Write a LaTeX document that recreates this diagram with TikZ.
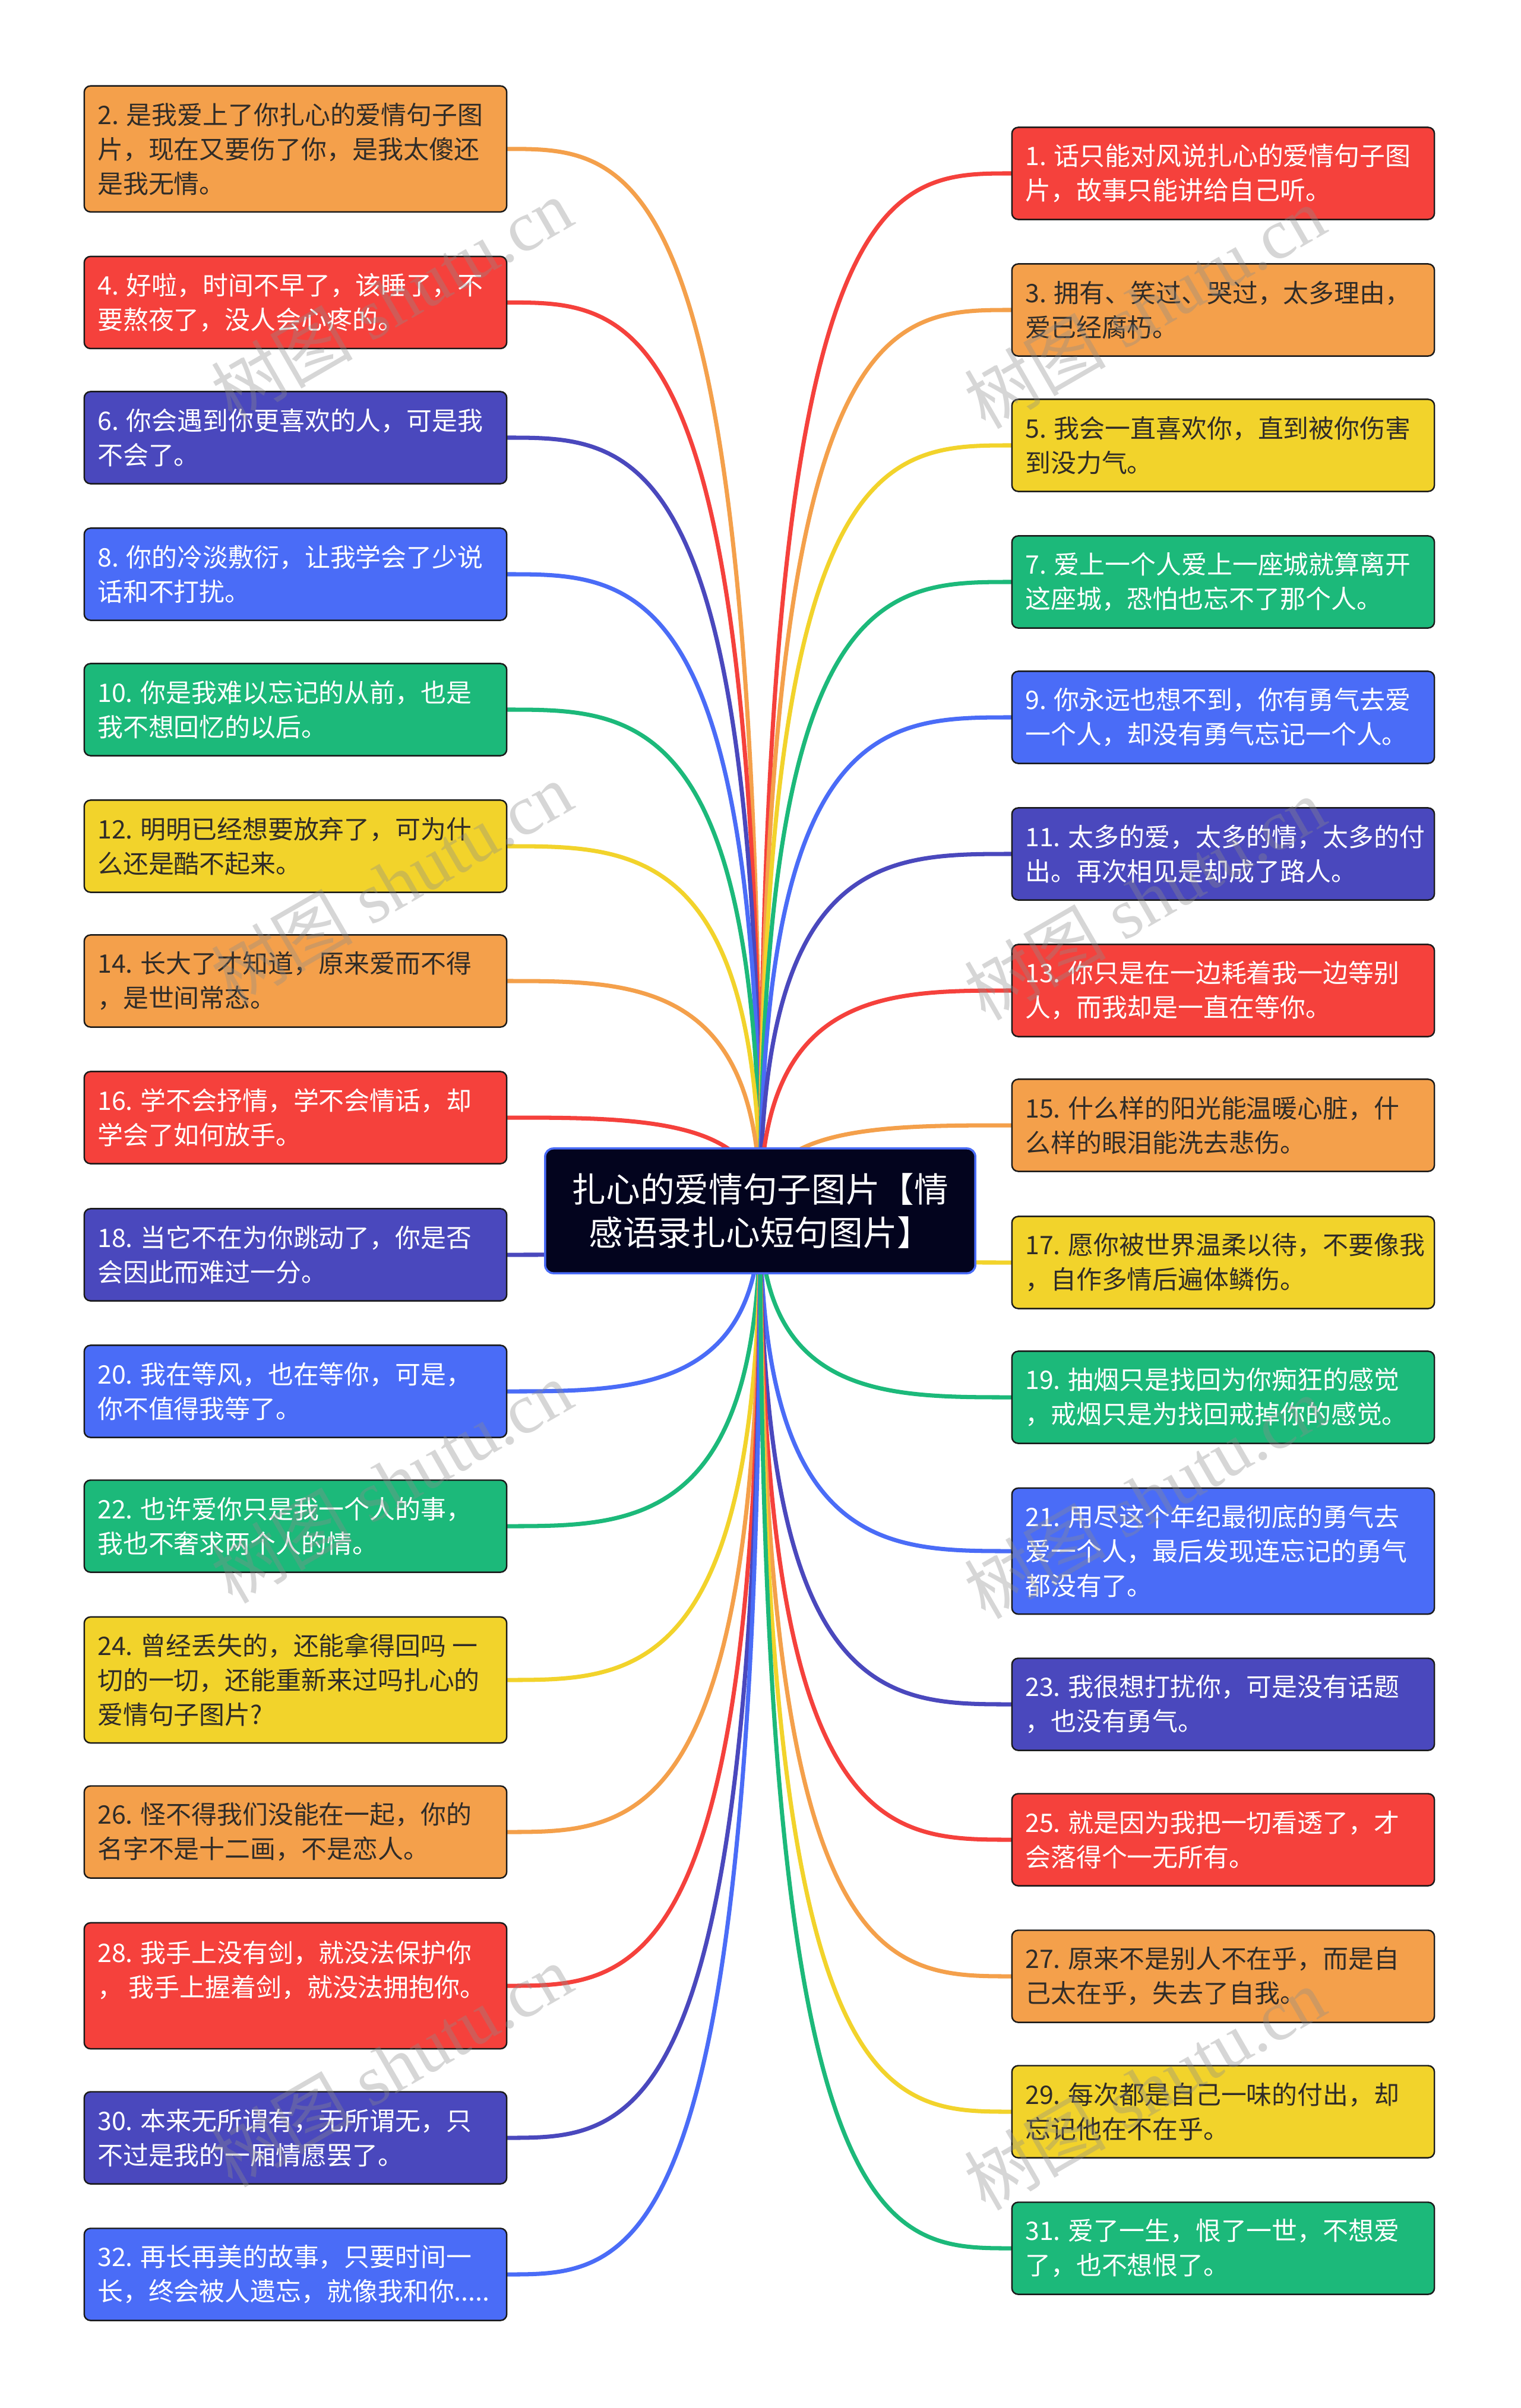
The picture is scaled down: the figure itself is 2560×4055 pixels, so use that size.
\documentclass[tikz,border=0pt]{standalone}
\usepackage{fontspec}
\newfontfamily\cjk{Noto Sans CJK SC}
\newfontfamily\wmfont{Liberation Serif}
\usetikzlibrary{calc}
\definecolor{cOr}{RGB}{244,160,75}
\definecolor{cRe}{RGB}{245,65,60}
\definecolor{cYe}{RGB}{242,211,43}
\definecolor{cIn}{RGB}{74,72,189}
\definecolor{cBl}{RGB}{74,108,247}
\definecolor{cGr}{RGB}{28,185,122}
\definecolor{cNavy}{RGB}{3,4,30}
\definecolor{cDark}{RGB}{48,44,40}
\definecolor{cBorder}{RGB}{26,26,26}
\pgfdeclarelayer{paper}
\pgfdeclarelayer{bg}
\pgfdeclarelayer{top}
\pgfsetlayers{paper,bg,main,top}
\tikzset{
  boxsty/.style={draw=cBorder, line width=0.7pt, rounded corners=3pt, minimum width=7.11cm, inner sep=0pt},
  htwo/.style={minimum height=1.55cm},
  hthree/.style={minimum height=2.12cm},
  txtsty/.style={align=left, inner sep=0pt, font=\cjk\fontsize{12.2}{16.5}\selectfont},
  conn/.style={line width=2pt, line cap=round},
  wm/.style={rotate=30, text=black!45, opacity=0.35, font=\wmfont\fontsize{34}{34}\selectfont}
}
% #1 id, #2 fill, #3 text colour, #4 y, #5 height style, #6 text
\newcommand\Lbox[6]{%
  \node[boxsty, #5, fill=#2] (b#1) at (497.5,#4) {};
  \node[txtsty, text=#3, anchor=west] (t#1) at ([xshift=0.23cm]b#1.west) {#6};
  \begin{pgfonlayer}{bg}
    \draw[conn, #2] (c.center) .. controls (c.center |- b#1.east) and ($(c.center |- b#1.east)!0.5!(b#1.east)$) .. (b#1.east);
  \end{pgfonlayer}
}
\newcommand\Rbox[6]{%
  \node[boxsty, #5, fill=#2] (b#1) at (2059.5,#4) {};
  \node[txtsty, text=#3, anchor=west] (t#1) at ([xshift=0.23cm]b#1.west) {#6};
  \begin{pgfonlayer}{bg}
    \draw[conn, #2] (c.center) .. controls (c.center |- b#1.west) and ($(c.center |- b#1.west)!0.5!(b#1.west)$) .. (b#1.west);
  \end{pgfonlayer}
}
\begin{document}
\begin{tikzpicture}[x=0.01cm, y=-0.01cm]
\useasboundingbox (0,0) rectangle (2560,4055);
\begin{pgfonlayer}{paper}
\fill[white] (0,0) rectangle (2560,4055);
\end{pgfonlayer}

\node[draw=cBl, line width=1pt, fill=cNavy, rounded corners=4pt, minimum width=7.24cm, minimum height=2.1cm, text=white, align=center, inner sep=0pt, font=\cjk\fontsize{16.4}{20.6}\selectfont] (c) at (1280,2039) {扎心的爱情句子图片【情\\感语录扎心短句图片】};

% left column
\Lbox{2}{cOr}{cDark}{250.8}{hthree}{2. 是我爱上了你扎心的爱情句子图\\片，现在又要伤了你，是我太傻还\\是我无情。}
\Lbox{4}{cRe}{white}{509.4}{htwo}{4. 好啦，时间不早了，该睡了，不\\要熬夜了，没人会心疼的。}
\Lbox{6}{cIn}{white}{737}{htwo}{6. 你会遇到你更喜欢的人，可是我\\不会了。}
\Lbox{8}{cBl}{white}{967}{htwo}{8. 你的冷淡敷衍，让我学会了少说\\话和不打扰。}
\Lbox{10}{cGr}{white}{1195}{htwo}{10. 你是我难以忘记的从前，也是\\我不想回忆的以后。}
\Lbox{12}{cYe}{cDark}{1425}{htwo}{12. 明明已经想要放弃了，可为什\\么还是酷不起来。}
\Lbox{14}{cOr}{cDark}{1652}{htwo}{14. 长大了才知道，原来爱而不得\\，是世间常态。}
\Lbox{16}{cRe}{white}{1882}{htwo}{16. 学不会抒情，学不会情话，却\\学会了如何放手。}
\Lbox{18}{cIn}{white}{2113}{htwo}{18. 当它不在为你跳动了，你是否\\会因此而难过一分。}
\Lbox{20}{cBl}{white}{2343}{htwo}{20. 我在等风，也在等你，可是，\\你不值得我等了。}
\Lbox{22}{cGr}{white}{2570}{htwo}{22. 也许爱你只是我一个人的事，\\我也不奢求两个人的情。}
\Lbox{24}{cYe}{cDark}{2829}{hthree}{24. 曾经丢失的，还能拿得回吗 一\\切的一切，还能重新来过吗扎心的\\爱情句子图片?}
\Lbox{26}{cOr}{cDark}{3085}{htwo}{26. 怪不得我们没能在一起，你的\\名字不是十二画，不是恋人。}
\Lbox{28}{cRe}{white}{3344}{hthree}{28. 我手上没有剑，就没法保护你\\，\ 我手上握着剑，就没法拥抱你。\\\mbox{}}
\Lbox{30}{cIn}{white}{3600}{htwo}{30. 本来无所谓有，无所谓无，只\\不过是我的一厢情愿罢了。}
\Lbox{32}{cBl}{white}{3830}{htwo}{32. 再长再美的故事，只要时间一\\长，终会被人遗忘，就像我和你.....}

% right column
\Rbox{1}{cRe}{white}{292}{htwo}{1. 话只能对风说扎心的爱情句子图\\片，故事只能讲给自己听。}
\Rbox{3}{cOr}{cDark}{522}{htwo}{3. 拥有、笑过、哭过，太多理由，\\爱已经腐朽。}
\Rbox{5}{cYe}{cDark}{750}{htwo}{5. 我会一直喜欢你，直到被你伤害\\到没力气。}
\Rbox{7}{cGr}{white}{980}{htwo}{7. 爱上一个人爱上一座城就算离开\\这座城，恐怕也忘不了那个人。}
\Rbox{9}{cBl}{white}{1208}{htwo}{9. 你永远也想不到，你有勇气去爱\\一个人，却没有勇气忘记一个人。}
\Rbox{11}{cIn}{white}{1438}{htwo}{11. 太多的爱，太多的情，太多的付\\出。再次相见是却成了路人。}
\Rbox{13}{cRe}{white}{1668}{htwo}{13. 你只是在一边耗着我一边等别\\人，而我却是一直在等你。}
\Rbox{15}{cOr}{cDark}{1895}{htwo}{15. 什么样的阳光能温暖心脏，什\\么样的眼泪能洗去悲伤。}
\Rbox{17}{cYe}{cDark}{2126}{htwo}{17. 愿你被世界温柔以待，不要像我\\，自作多情后遍体鳞伤。}
\Rbox{19}{cGr}{white}{2353}{htwo}{19. 抽烟只是找回为你痴狂的感觉\\，戒烟只是为找回戒掉你的感觉。}
\Rbox{21}{cBl}{white}{2612}{hthree}{21. 用尽这个年纪最彻底的勇气去\\爱一个人，最后发现连忘记的勇气\\都没有了。}
\Rbox{23}{cIn}{white}{2870}{htwo}{23. 我很想打扰你，可是没有话题\\，也没有勇气。}
\Rbox{25}{cRe}{white}{3098}{htwo}{25. 就是因为我把一切看透了，才\\会落得个一无所有。}
\Rbox{27}{cOr}{cDark}{3328}{htwo}{27. 原来不是别人不在乎，而是自\\己太在乎，失去了自我。}
\Rbox{29}{cYe}{cDark}{3556}{htwo}{29. 每次都是自己一味的付出，却\\忘记他在不在乎。}
\Rbox{31}{cGr}{white}{3786}{htwo}{31. 爱了一生，恨了一世，不想爱\\了，也不想恨了。}

% watermarks
\begin{pgfonlayer}{top}
\node[wm] (w1) at (659,504) {{\cjk 树图} shutu.cn};
\node[wm] (w2) at (1927,517) {{\cjk 树图} shutu.cn};
\node[wm] (w3) at (659,1487) {{\cjk 树图} shutu.cn};
\node[wm] (w4) at (1927,1513) {{\cjk 树图} shutu.cn};
\node[wm] (w5) at (659,2495) {{\cjk 树图} shutu.cn};
\node[wm] (w6) at (1927,2521) {{\cjk 树图} shutu.cn};
\node[wm] (w7) at (659,3478) {{\cjk 树图} shutu.cn};
\node[wm] (w8) at (1927,3517) {{\cjk 树图} shutu.cn};
\end{pgfonlayer}
\end{tikzpicture}
\end{document}
